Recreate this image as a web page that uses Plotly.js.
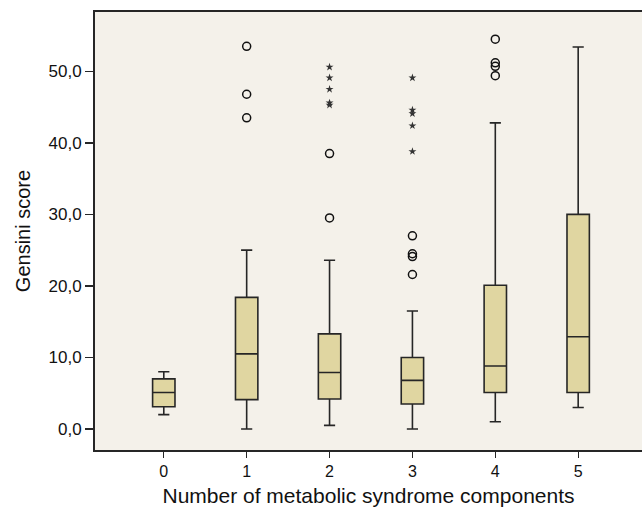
<!DOCTYPE html>
<html>
<head>
<meta charset="utf-8">
<script src="https://cdn.plot.ly/plotly-3.0.1.min.js"></script>
<style>html,body{margin:0;padding:0;background:#fff;}#chart{width:642px;height:514px;}</style>
</head>
<body>
<div id="chart"></div>
<script>
// Categories: number of metabolic syndrome components
const categories = [0, 1, 2, 3, 4, 5];
// Box statistics (Gensini score)
const lowerWhisker = [2.0, 0.0, 0.5, 0.0, 1.0, 3.0];
const q1Values     = [3.1, 4.1, 4.2, 3.5, 5.1, 5.1];
const medianValues = [5.1, 10.5, 7.9, 6.8, 8.8, 12.9];
const q3Values     = [7.0, 18.4, 13.3, 10.0, 20.1, 30.0];
const upperWhisker = [8.0, 25.0, 23.6, 16.5, 42.8, 53.4];
// Outliers (circles)
const circleX = [1, 1, 1, 2, 2, 3, 3, 3, 3, 4, 4, 4, 4];
const circleY = [53.5, 46.8, 43.5, 38.5, 29.5, 27.0, 24.5, 24.1, 21.6, 54.5, 51.2, 50.7, 49.4];
// Extreme values (stars)
const starX = [2, 2, 2, 2, 2, 3, 3, 3, 3, 3];
const starY = [50.6, 49.1, 47.5, 45.6, 45.3, 49.1, 44.6, 44.1, 42.4, 38.8];
// Y tick labels
const yTickVals = [0, 10, 20, 30, 40, 50];
const yTickText = ['0,0', '10,0', '20,0', '30,0', '40,0', '50,0'];

const lineColor = '#262626';
const font = {family: 'Liberation Sans, Arial, Helvetica, sans-serif', color: '#111', size: 16};

const traces = [
  {
    type: 'box',
    x: categories,
    q1: q1Values,
    median: medianValues,
    q3: q3Values,
    lowerfence: lowerWhisker,
    upperfence: upperWhisker,
    boxpoints: false,
    width: 0.27,
    whiskerwidth: 0.5,
    fillcolor: '#E0D6A1',
    line: {color: lineColor, width: 1.6},
    hoverinfo: 'skip',
    showlegend: false
  },
  {
    type: 'scatter', mode: 'markers',
    x: circleX, y: circleY,
    marker: {symbol: 'circle-open', size: 8, color: '#111', line: {width: 1.5, color: '#111'}},
    showlegend: false
  },
  {
    type: 'scatter', mode: 'markers',
    x: starX, y: starY,
    marker: {symbol: 'star', size: 6, color: '#333', line: {width: 0}},
    showlegend: false
  }
];

const layout = {
  width: 642, height: 514,
  margin: {l: 95, r: 0, t: 12, b: 64},
  paper_bgcolor: '#ffffff',
  plot_bgcolor: '#F4F1EA',
  font: font,
  showlegend: false,
  xaxis: {
    type: 'linear',
    range: [-0.83, 5.77],
    tickvals: categories,
    ticktext: categories.map(String),
    ticks: 'outside', ticklen: 6, tickwidth: 1.3, tickcolor: lineColor,
    showline: true, linecolor: lineColor, linewidth: 2, mirror: true,
    showgrid: false, zeroline: false,
    tickfont: {size: 16},
    title: {text: 'Number of metabolic syndrome components', font: {size: 21}, standoff: 9}
  },
  yaxis: {
    range: [-2.94, 58.3],
    tickvals: yTickVals,
    ticktext: yTickText,
    ticks: 'outside', ticklen: 8, tickwidth: 1.3, tickcolor: lineColor,
    showline: true, linecolor: lineColor, linewidth: 2,
    showgrid: false, zeroline: false,
    tickfont: {size: 17},
    title: {text: 'Gensini score', font: {size: 20}, standoff: 13}
  }
};

Plotly.newPlot('chart', traces, layout, {displayModeBar: false, staticPlot: true});
</script>
</body>
</html>
